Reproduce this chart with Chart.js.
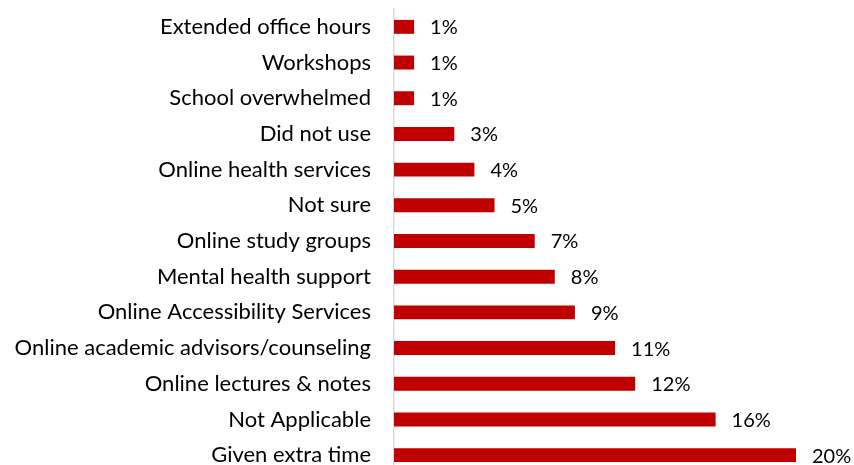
<!DOCTYPE html>
<html lang="en">
<head>
    <meta charset="UTF-8">
    <title>Support Used</title>
    <script src="https://cdn.jsdelivr.net/npm/chart.js"></script>
    <style>
        html, body { margin: 0; padding: 0; background: #fff; overflow: hidden; }
        canvas { display: block; }
    </style>
</head>
<body>
    <canvas id="chart" width="854" height="474"></canvas>

    <script>
        const categories = [
            'Extended office hours',
            'Workshops',
            'School overwhelmed',
            'Did not use',
            'Online health services',
            'Not sure',
            'Online study groups',
            'Mental health support',
            'Online Accessibility Services',
            'Online academic advisors/counseling',
            'Online lectures & notes',
            'Not Applicable',
            'Given extra time'
        ];
        const percents = [1, 1, 1, 3, 4, 5, 7, 8, 9, 11, 12, 16, 20];

        const FONT = 'Lato, "Open Sans", sans-serif';

        // writes "n%" just past the end of each bar
        const valueLabels = {
            id: 'valueLabels',
            afterDatasetsDraw(chart) {
                const ctx = chart.ctx;
                const meta = chart.getDatasetMeta(0);
                ctx.save();
                ctx.font = '20px ' + FONT;
                ctx.fillStyle = '#000';
                ctx.textAlign = 'left';
                ctx.textBaseline = 'middle';
                meta.data.forEach((bar, i) => {
                    ctx.fillText(percents[i] + '%', bar.x + 16, bar.y + 1);
                });
                ctx.restore();
            }
        };

        new Chart(document.getElementById('chart'), {
            type: 'bar',
            data: {
                labels: categories,
                datasets: [{
                    data: percents,
                    backgroundColor: '#c00000',
                    categoryPercentage: 0.39,
                    barPercentage: 1
                }]
            },
            plugins: [valueLabels],
            options: {
                indexAxis: 'y',
                responsive: false,
                animation: false,
                layout: { padding: { top: 9, right: 58, bottom: 1, left: 0 } },
                plugins: {
                    legend: { display: false },
                    tooltip: { enabled: false }
                },
                scales: {
                    x: {
                        display: false,
                        min: 0,
                        max: 20
                    },
                    y: {
                        afterFit(scale) {
                            scale.width = 394;
                            // tick padding otherwise eats into the plot height
                            scale.paddingTop = 0;
                            scale.paddingBottom = 0;
                        },
                        grid: { color: 'transparent', drawTicks: false },
                        border: { display: true, color: '#d9d9d9', width: 1.5 },
                        ticks: {
                            color: '#000',
                            padding: 23,
                            font: { family: FONT, size: 22 }
                        }
                    }
                }
            }
        });
    </script>
</body>
</html>
